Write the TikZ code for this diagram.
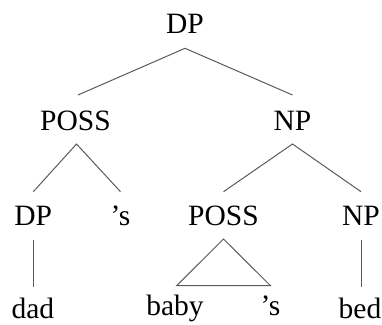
\documentclass[tikz,border=0pt]{standalone}
\usepackage{fontspec}
\setmainfont{Liberation Serif}
\newfontfamily\treefont{Liberation Serif}
\definecolor{edgegray}{RGB}{90,90,90}
\begin{document}
\begin{tikzpicture}[x=1pt,y=-1pt,
  lab/.style={anchor=base,inner sep=0pt,font=\treefont\fontsize{29.5}{32}\selectfont},
  edge/.style={draw=edgegray,line width=1pt}]
\useasboundingbox (0,0) rectangle (382,324);
% nodes
\node[lab] (dp0) at (185,33.5) {DP};
\node[lab] (poss1) at (75.5,130.5) {POSS};
\node[lab] (np1) at (292.5,130.5) {NP};
\node[lab] (dp2) at (33.3,225.5) {DP};
\node[lab] (s1) at (120.5,225.5) {’s};
\node[lab] (poss2) at (223.5,225.5) {POSS};
\node[lab] (np2) at (361,225.5) {NP};
\node[lab] (dad) at (32.8,318) {dad};
\node[lab] (baby) at (175,315.5) {baby};
\node[lab] (s2) at (270.5,315.5) {’s};
\node[lab] (bed) at (360,318) {bed};
% connectors
\draw[edge] ([xshift=2.5pt,yshift=35.5pt]poss1.base) -- ([yshift=-14.8pt]dp0.base) -- ([yshift=35.5pt]np1.base);
\draw[edge] ([yshift=33.8pt]dp2.base) -- ([xshift=1pt,yshift=-13.5pt]poss1.base) -- ([yshift=33.8pt]s1.base);
\draw[edge] ([yshift=33.8pt]poss2.base) -- ([yshift=-13.5pt]np1.base) -- ([yshift=33.8pt]np2.base);
\draw[edge] ([yshift=-14.5pt]dp2.base) -- ([xshift=0.5pt,yshift=31.3pt]dad.base);
\draw[edge] ([yshift=-14.5pt]np2.base) -- ([yshift=31.3pt]np2.base |- bed.base);
\draw[edge] ([xshift=1.7pt,yshift=29.8pt]baby.base) -- ([yshift=-13.5pt]poss2.base) -- ([yshift=29.8pt]s2.base) -- cycle;
\end{tikzpicture}
\end{document}
